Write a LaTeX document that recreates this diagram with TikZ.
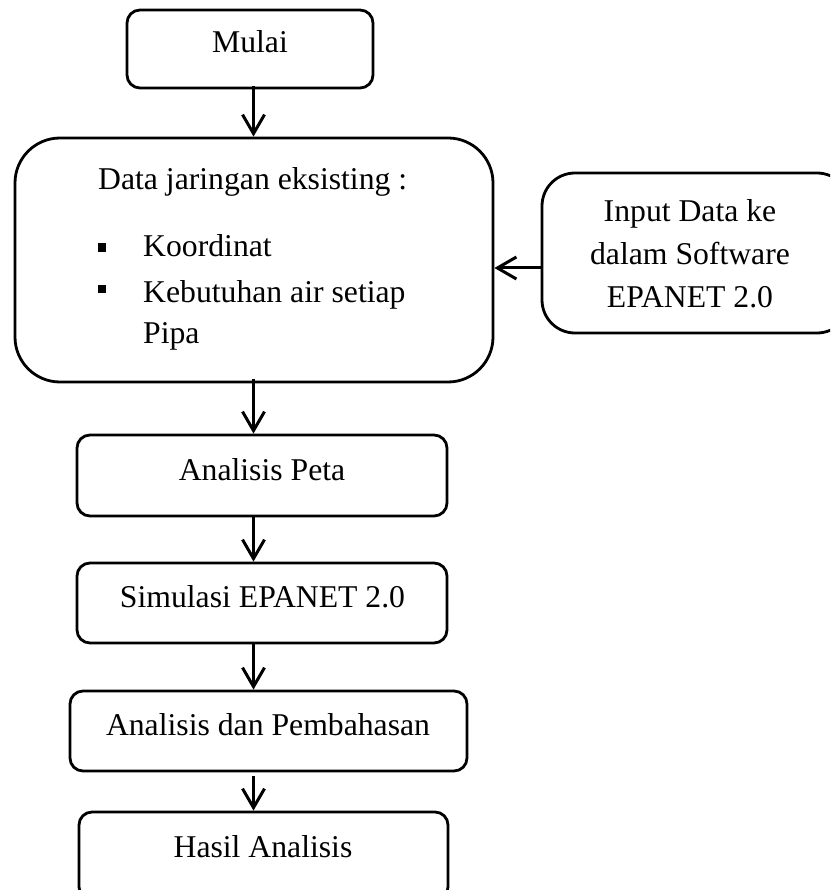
\documentclass[tikz,border=0pt]{standalone}
\usepackage{fontspec}
\setmainfont{Liberation Serif}
\usetikzlibrary{arrows.meta}
\begin{document}
\begin{tikzpicture}[x=1pt,y=-1pt,
  flowbox/.style={draw, line width=2.8pt, inner sep=0pt},
  lbl/.style={anchor=base, inner sep=0pt, font=\fontsize{31.7}{42}\selectfont},
  lblw/.style={anchor=base west, inner sep=0pt, font=\fontsize{31.7}{42}\selectfont},
  bul/.style={fill=black, inner sep=0pt, minimum size=8.5pt},
  arr/.style={line width=3pt, -{Straight Barb[length=19pt,width=22pt,line width=3pt]}}]
\clip (0,0) rectangle (830,890);
\fill[white] (0,0) rectangle (830,890);
% boxes
\node[flowbox, rounded corners=13pt, minimum width=246pt, minimum height=78pt] (mulai) at (250,49) {};
\node[flowbox, rounded corners=45pt, minimum width=478pt, minimum height=244pt] (data) at (254,260) {};
\node[flowbox, rounded corners=33pt, minimum width=308pt, minimum height=160pt] (input) at (696,253) {};
\node[flowbox, rounded corners=13pt, minimum width=370pt, minimum height=81pt] (peta) at (262,475.5) {};
\node[flowbox, rounded corners=13pt, minimum width=370pt, minimum height=80pt] (simul) at (262,603) {};
\node[flowbox, rounded corners=13pt, minimum width=397pt, minimum height=80pt] (bahas) at (268.5,731) {};
\node[flowbox, rounded corners=13pt, minimum width=369pt, minimum height=88pt] (hasil) at (263.5,856) {};
% texts
\node[lbl] (tmulai) at (250,53) {Mulai};
\node[lblw] (tdata) at (98,190) {Data jaringan eksisting :};
\node[bul] (b1) at (102,247.5) {};
\node[bul] (b2) at (102,289) {};
\node[lblw] (tk1) at (143,257) {Koordinat};
\node[lblw] (tk2) at (143,302) {Kebutuhan air setiap};
\node[lblw] (tk3) at (143,343) {Pipa};
\node[lbl] (ti1) at (690,222) {Input Data ke};
\node[lbl] (ti2) at (690,265) {dalam Software};
\node[lbl] (ti3) at (690,307) {EPANET 2.0};
\node[lbl] (tpeta) at (262,480) {Analisis Peta};
\node[lbl] (tsimul) at (262.5,607) {Simulasi EPANET 2.0};
\node[lbl] (tbahas) at (268,735) {Analisis dan Pembahasan};
\node[lbl] (thasil) at (263,857) {Hasil Analisis};
% connectors
\coordinate (ax) at (253.5,0);
\coordinate (ay) at (0,268);
\draw[arr] ([yshift=3pt]mulai.south -| ax) -- (data.north -| ax);
\draw[arr] ([yshift=4pt]data.south -| ax) -- (peta.north -| ax);
\draw[arr] (peta.south -| ax) -- (simul.north -| ax);
\draw[arr] (simul.south -| ax) -- (bahas.north -| ax);
\draw[arr] ([yshift=-4pt]bahas.south -| ax) -- (hasil.north -| ax);
\draw[arr] (input.west |- ay) -- (data.east |- ay);
\end{tikzpicture}
\end{document}
